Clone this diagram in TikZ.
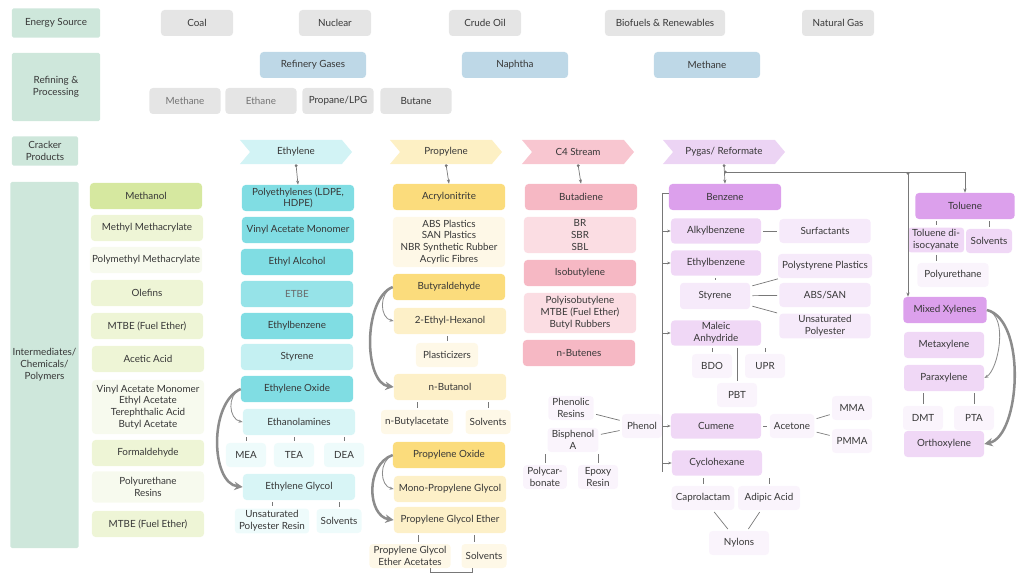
\documentclass[tikz,border=0pt]{standalone}
\usepackage{fontspec}
\setmainfont{Lato}
\usetikzlibrary{arrows.meta,shapes.symbols}

\definecolor{ink}{RGB}{55,55,55}
\definecolor{wire}{RGB}{120,120,120}
\definecolor{curve}{RGB}{140,140,140}
\definecolor{hdr}{RGB}{206,231,219}
\definecolor{gry}{RGB}{229,229,229}
\definecolor{blu}{RGB}{190,216,231}
\definecolor{mth}{RGB}{214,232,160}
\definecolor{mtl}{RGB}{238,245,214}
\definecolor{mtx}{RGB}{247,250,238}
\definecolor{eth}{RGB}{128,221,227}
\definecolor{etb}{RGB}{150,227,232}
\definecolor{etm}{RGB}{196,240,242}
\definecolor{etl}{RGB}{216,245,246}
\definecolor{etx}{RGB}{238,251,251}
\definecolor{etc}{RGB}{210,243,245}
\definecolor{pro}{RGB}{251,220,124}
\definecolor{prm}{RGB}{253,240,200}
\definecolor{prl}{RGB}{254,248,231}
\definecolor{prc}{RGB}{253,240,196}
\definecolor{cfd}{RGB}{246,184,196}
\definecolor{cfl}{RGB}{251,221,227}
\definecolor{cfc}{RGB}{248,198,208}
\definecolor{pyd}{RGB}{220,160,236}
\definecolor{pym}{RGB}{240,216,246}
\definecolor{pyl}{RGB}{246,234,250}
\definecolor{pyx}{RGB}{250,244,252}
\definecolor{pyc}{RGB}{236,212,244}

\begin{document}
\begin{tikzpicture}[x=0.025cm, y=-0.025cm,
    every node/.style={font=\fontsize{7}{8.4}\selectfont, text=ink, align=center},
    card/.style={rounded corners=2.5pt, inner sep=1.5pt},
    lane/.style={card, rounded corners=1pt, fill=hdr},
    src/.style={card, fill=gry, minimum width=1.8cm, minimum height=0.65cm},
    refbox/.style={card, fill=blu, minimum width=2.65cm, minimum height=0.65cm},
    gas/.style={card, fill=gry, minimum width=1.78cm, minimum height=0.65cm},
    wide/.style={card, fill=#1, minimum width=2.8cm, minimum height=0.65cm},
    midbox/.style={card, fill=#1, minimum width=2.25cm, minimum height=0.63cm},
    leafbox/.style={card, fill=#1, inner xsep=3pt, minimum width=1cm, minimum height=0.6cm},
    stream/.style={signal, signal from=west, signal to=east, signal pointer angle=100,
      fill=#1, minimum width=2.8cm, minimum height=0.6cm},
    feed/.style={draw=wire, line width=0.5pt, {Circle[length=2pt]}-{Stealth[length=3pt]}},
    hop/.style={draw=wire, line width=0.5pt, -{Stealth[length=2.5pt]}},
    stub/.style={draw=wire, line width=0.5pt, shorten <=1.5pt, shorten >=1.5pt},
    thinswoop/.style={draw=curve, line width=0.6pt, -{Stealth[length=3pt]}},
    swoop/.style={draw=curve, line width=1.8pt, -{Stealth[length=6pt, width=6pt]}}
  ]
  \useasboundingbox (0,0) rectangle (1024,576);

  % row labels
  \draw
    (56,23) node[lane, minimum width=2.2cm, minimum height=0.73cm] (energy){Energy Source}
    (56,87) node[lane, minimum width=2.2cm, minimum height=1.7cm] (refining){Refining \&\\Processing}
    (45,151) node[lane, minimum width=1.65cm, minimum height=0.73cm] (cracker){Cracker\\Products}
    (44.5,365) node[lane, minimum width=1.7cm, minimum height=9.15cm] (inter){Intermediates/\\Chemicals/\\Polymers};

  % energy sources and refining
  \draw
    (197,23) node[src] (coal){Coal}
    (335,23) node[src] (nuclear){Nuclear}
    (485,23) node[src] (crude){Crude Oil}
    (665,23) node[src, minimum width=3cm] (biofuels){Biofuels \& Renewables}
    (838,23) node[src] (natgas){Natural Gas}
    (313,65) node[refbox] (refgas){Refinery Gases}
    (515,65) node[refbox] (naphtha){Naphtha}
    (707,65) node[refbox] (methaneR){Methane}
    (185,101) node[gas, text=ink!70] (methane){Methane}
    (261,101) node[gas, text=ink!70] (ethane){Ethane}
    (338,101) node[gas] (propane){Propane/LPG}
    (416,101) node[gas] (butane){Butane};

  % methanol column
  \draw
    (146,196) node[wide=mth] (methanol){Methanol}
    (147,228) node[wide=mtl] (mma){Methyl Methacrylate}
    (146,260) node[wide=mtx] (pmma){Polymethyl Methacrylate}
    (147,293) node[wide=mtl] (olefins){Olefins}
    (147,326) node[wide=mtl] (mtbeA){MTBE (Fuel Ether)}
    (148,359) node[wide=mtl] (acetic){Acetic Acid}
    (148,407) node[wide=mtx, minimum height=1.35cm] (acetates){Vinyl Acetate Monomer\\Ethyl Acetate\\Terephthalic Acid\\Butyl Acetate}
    (148,453) node[wide=mtl] (formal){Formaldehyde}
    (148,487) node[wide=mtx, minimum height=0.78cm] (purR){Polyurethane\\Resins}
    (148,524) node[wide=mtl] (mtbeB){MTBE (Fuel Ether)};

  % ethylene column
  \draw
    (296,152) node[stream=etc] (ethylene){Ethylene}
    (298,198) node[wide=eth] (pe){Polyethylenes (LDPE,\\HDPE)}
    (298,230) node[wide=eth] (vamE){Vinyl Acetate Monomer}
    (297,262) node[wide=eth] (etoh){Ethyl Alcohol}
    (297,294) node[wide=etb, text=ink!75] (etbe){ETBE}
    (297,326) node[wide=eth] (ebzE){Ethylbenzene}
    (297,357) node[wide=etm] (styE){Styrene}
    (297,389) node[wide=eth] (eo){Ethylene Oxide}
    (299,422) node[wide=etl] (amines){Ethanolamines}
    (246,455) node[leafbox=etx] (mea){MEA}
    (294,455) node[leafbox=etx] (tea){TEA}
    (344,455) node[leafbox=etx] (dea){DEA}
    (299,487) node[wide=etl] (eg){Ethylene Glycol}
    (272,521) node[leafbox=etx] (upresin){Unsaturated\\Polyester Resin}
    (339,521) node[leafbox=etx] (solvE){Solvents};

  % propylene column
  \draw
    (446,152) node[stream=prc] (propylene){Propylene}
    (449,197) node[wide=pro] (acn){Acrylonitrite}
    (449,242) node[wide=prl, minimum height=1.25cm] (absblk){ABS Plastics\\SAN Plastics\\NBR Synthetic Rubber\\Acyrlic Fibres}
    (449,287) node[wide=pro] (butyr){Butyraldehyde}
    (450,321) node[wide=prm] (ehex){2-Ethyl-Hexanol}
    (447,355) node[leafbox=prl, minimum width=1.55cm] (plast){Plasticizers}
    (450,387) node[wide=prm] (buoh){n-Butanol}
    (417,422) node[leafbox=prl] (buac){n-Butylacetate}
    (488,422) node[leafbox=prl] (solvP){Solvents}
    (449,455) node[wide=pro] (po){Propylene Oxide}
    (450,489) node[wide=prm] (mpg){Mono-Propylene Glycol}
    (450,520) node[wide=prm] (pge){Propylene Glycol Ether}
    (410,556) node[leafbox=prl, inner ysep=0.5pt] (pgea){Propylene Glycol\\Ether Acetates}
    (484,556) node[leafbox=prl] (solvQ){Solvents};

  % c4 column and phenol
  \draw
    (578,152) node[stream=cfc] (cfour){C4 Stream}
    (581,197) node[wide=cfd] (butad){Butadiene}
    (580,235) node[wide=cfl, minimum height=0.9cm] (brblk){BR\\SBR\\SBL}
    (580,273) node[wide=cfd] (isob){Isobutylene}
    (580,313) node[wide=cfl, minimum height=1cm] (pibblk){Polyisobutylene\\MTBE (Fuel Ether)\\Butyl Rubbers}
    (579,353) node[wide=cfd] (nbut){n-Butenes}
    (571,408) node[leafbox=pyx] (phres){Phenolic\\Resins}
    (573,440) node[leafbox=pyx] (bpa){Bisphenol\\A}
    (642,426) node[leafbox=pyx] (phenol){Phenol}
    (545,477) node[leafbox=pyx] (pc){Polycar-\\bonate}
    (598,477) node[leafbox=pyx] (epoxy){Epoxy\\Resin};

  % pygas column
  \draw
    (724,152) node[stream=pyc, minimum width=3.05cm] (pygas){Pygas/ Reformate}
    (725,197) node[wide=pyd] (benz){Benzene}
    (716,231) node[midbox=pym] (alkyl){Alkylbenzene}
    (825,231) node[leafbox=pyl, minimum width=2.28cm] (surf){Surfactants}
    (716,263) node[midbox=pym] (ebzP){Ethylbenzene}
    (715,296) node[leafbox=pyl, minimum width=1.75cm, minimum height=0.66cm] (styP){Styrene}
    (825,266) node[leafbox=pyl, minimum width=2.28cm] (ps){Polystyrene Plastics}
    (825,295) node[leafbox=pyl, minimum width=2.28cm] (abssan){ABS/SAN}
    (825,326) node[leafbox=pyl, minimum width=2.28cm] (upoly){Unsaturated\\Polyester}
    (716,333) node[midbox=pym] (maleic){Maleic\\Anhydride}
    (712,366) node[leafbox=pyx] (bdo){BDO}
    (765,366) node[leafbox=pyx] (upr){UPR}
    (737,395) node[leafbox=pyx] (pbt){PBT}
    (716,426) node[midbox=pym] (cumene){Cumene}
    (792,426) node[leafbox=pyx] (acetone){Acetone}
    (852,408) node[leafbox=pyx] (mmaP){MMA}
    (852,441) node[leafbox=pyx] (pmmaP){PMMA}
    (717,463) node[midbox=pym] (cyclo){Cyclohexane}
    (703,498) node[leafbox=pyx, minimum width=1.55cm] (capro){Caprolactam}
    (769,498) node[leafbox=pyx, minimum width=1.55cm] (adipic){Adipic Acid}
    (739,543) node[leafbox=pyx, minimum width=1.5cm] (nylons){Nylons};

  % toluene and xylenes
  \draw
    (965,206) node[wide=pyd, minimum width=2.48cm] (tol){Toluene}
    (936,240) node[leafbox=pym, minimum width=1.3cm] (tdi){Toluene di-\\isocyanate}
    (989,241) node[leafbox=pym, minimum width=1.15cm] (solvT){Solvents}
    (953,275) node[leafbox=pyx, minimum width=1.78cm] (pu){Polyurethane}
    (945,310) node[wide=pyd, minimum width=2.08cm] (mx){Mixed Xylenes}
    (944,345) node[wide=pym, minimum width=2cm] (meta){Metaxylene}
    (944,378) node[wide=pym, minimum width=2cm] (para){Paraxylene}
    (923,418) node[leafbox=pyx] (dmt){DMT}
    (974,418) node[leafbox=pyx] (pta){PTA}
    (944,444) node[wide=pym, minimum width=2cm] (ortho){Orthoxylene};

  \coordinate (split) at (724,172);
  \coordinate (xbus) at (908,172);
  \coordinate (bustop) at (662,193);
  \coordinate (busbot) at (662,472);

  % feeds from cracker products
  \draw[feed] (ethylene.south) -- (pe.north);
  \draw[feed] (propylene.south) -- (acn.north);
  \draw[feed] (cfour.south) -- (butad.north);
  \draw[feed] (pygas.south) -- (benz.north);
  \draw[feed] (split) -| (tol.north);
  \draw[feed] (xbus) -- (xbus |- mx.north);

  % aromatics bus
  \begin{scope}[draw=wire, line width=0.5pt]
    \draw (bustop) -- (busbot);
    \draw (bustop) -- (bustop -| benz.west);
    \draw[hop] (bustop |- alkyl) -- (alkyl.west);
    \draw[hop] (bustop |- ebzP) -- (ebzP.west);
    \draw[hop] (bustop |- maleic) -- (maleic.west);
    \draw[hop] (bustop |- cumene) -- (cumene.west);
    \draw[hop] (bustop |- cyclo) -- (cyclo.west);
    \draw (phenol.east) -- (bustop |- phenol);
  \end{scope}

  % product links
  \begin{scope}[stub]
    \draw (mea |- amines.south) -- (mea.north);
    \draw (tea |- amines.south) -- (tea.north);
    \draw (dea |- amines.south) -- (dea.north);
    \draw (upresin |- eg.south) -- (upresin.north);
    \draw (solvE |- eg.south) -- (solvE.north);
    \draw (plast |- ehex.south) -- (plast.north);
    \draw (buac |- buoh.south) -- (buac.north);
    \draw (solvP |- buoh.south) -- (solvP.north);
    \draw ([xshift=0.2cm]pgea.north |- pge.south) -- ([xshift=0.2cm]pgea.north);
    \draw ([xshift=-0.25cm]solvQ.north |- pge.south) -- ([xshift=-0.25cm]solvQ.north);
    \draw (phres) -- (phenol);
    \draw (bpa) -- (phenol);
    \draw (pc |- bpa.south) -- (pc.north);
    \draw (epoxy |- bpa.south) -- (epoxy.north);
    \draw (alkyl) -- (surf);
    \draw (ebzP.south -| styP) -- (styP.north);
    \draw (styP) -- (ps);
    \draw (styP) -- (abssan);
    \draw (styP) -- (upoly);
    \draw (bdo |- maleic.south) -- (bdo.north);
    \draw (upr |- maleic.south) -- (upr.north);
    \draw (pbt |- maleic.south) -- (pbt.north);
    \draw (cumene) -- (acetone);
    \draw (acetone) -- (mmaP);
    \draw (acetone) -- (pmmaP);
    \draw (capro |- cyclo.south) -- (capro.north);
    \draw (adipic |- cyclo.south) -- (adipic.north);
    \draw (capro) -- (nylons);
    \draw (adipic) -- (nylons);
    \draw (tdi |- tol.south) -- (tdi.north);
    \draw (solvT |- tol.south) -- (solvT.north);
    \draw (tdi.south) -- (tdi.south |- pu.north);
    \draw (dmt |- para.south) -- (dmt.north);
    \draw (pta |- para.south) -- (pta.north);
  \end{scope}
  \draw[draw=wire, line width=0.5pt] ([xshift=0.5cm]pgea.south) -- ++(0,4) -| ([xshift=-0.3cm]solvQ.south);

  % reaction swoops
  \draw[thinswoop] (eo.west) .. controls +(-14,6) and +(-14,-3) .. (amines.west);
  \draw[swoop] (eo.west) .. controls +(-32,14) and +(-32,-4) .. (eg.west);
  \draw[thinswoop] (butyr.west) .. controls +(-14,6) and +(-14,-3) .. (ehex.west);
  \draw[swoop] (butyr.west) .. controls +(-30,12) and +(-30,-4) .. (buoh.west);
  \draw[thinswoop] (po.west) .. controls +(-14,6) and +(-14,-3) .. (mpg.west);
  \draw[swoop] (po.west) .. controls +(-28,10) and +(-26,-4) .. (pge.west);
  \draw[thinswoop] (mx.east) .. controls +(22,6) and +(14,-8) .. (para.east);
  \draw[swoop] (mx.east) .. controls +(40,10) and +(36,-8) .. (ortho.east);
\end{tikzpicture}
\end{document}
